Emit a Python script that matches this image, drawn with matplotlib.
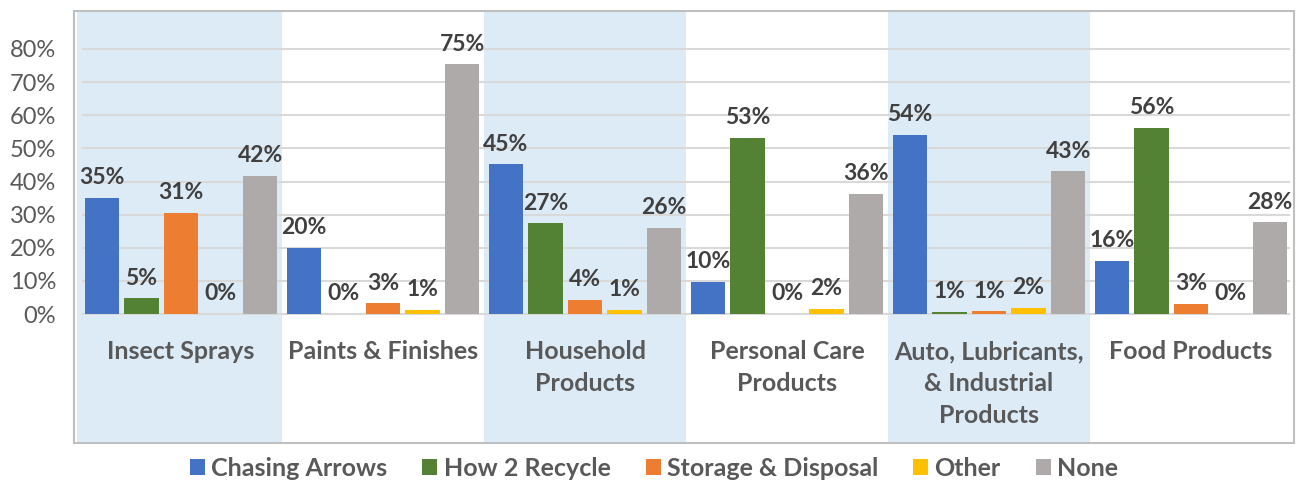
import matplotlib.pyplot as plt
import numpy as np

# ======== Data ========
categories = ["Insect Sprays", "Paints & Finishes", "Household\nProducts",
              "Personal Care\nProducts", "Auto, Lubricants,\n& Industrial\nProducts",
              "Food Products"]
series_names = ["Chasing Arrows", "How 2 Recycle", "Storage & Disposal", "Other", "None"]

chasing_arrows = [0.35, 0.199, 0.452, 0.097, 0.54, 0.16]
how_2_recycle = [0.047, 0.0, 0.274, 0.532, 0.006, 0.561]
storage_disposal = [0.306, 0.032, 0.043, 0.0, 0.008, 0.031]
other = [0.0, 0.012, 0.013, 0.016, 0.019, 0.0]
none = [0.417, 0.754, 0.26, 0.363, 0.431, 0.277]

yticks = [0.0, 0.1, 0.2, 0.3, 0.4, 0.5, 0.6, 0.7, 0.8]
ytick_labels = ["0%", "10%", "20%", "30%", "40%", "50%", "60%", "70%", "80%"]

# ======== Style ========
colors = ["#4472C4", "#548235", "#ED7D31", "#FFC000", "#AEAAAA"]
band_color = "#DDEBF7"
grid_color = "#D9D9D9"
text_dark = "#404040"
text_grey = "#595959"

plt.rcParams['font.family'] = ['Lato', 'DejaVu Sans']

W, H = 1296, 483
fig = plt.figure(figsize=(W / 100, H / 100), dpi=100)
ax = fig.add_axes([74 / W, 40 / H, 1220 / W, 432 / H])

all_series = [chasing_arrows, how_2_recycle, storage_disposal, other, none]
x = np.arange(len(categories))
step = 0.196
width = 0.17

ax.set_xlim(-0.53, 5.51)
ax.set_ylim(-0.3894, 0.9147)

# alternating bands
for i in range(0, len(categories), 2):
    left = i - 0.5 if i > 0 else -0.515
    ax.axvspan(left, i + 0.5, color=band_color, zorder=0, lw=0)

# gridlines
ax.hlines(yticks, -0.49, 5.49, color=grid_color, lw=1.5, zorder=1)

for k, (vals, name, c) in enumerate(zip(all_series, series_names, colors)):
    pos = x + (k - 2) * step
    ax.bar(pos, vals, width, color=c, label=name, zorder=2)
    for xp, v in zip(pos, vals):
        ax.annotate(f"{v:.0%}", (xp, v), xytext=(0, 7), textcoords="offset points",
                    ha="center", va="bottom", fontsize=16.5, fontweight="bold",
                    color=text_dark, zorder=3)

# category labels
for xi, cat in zip(x, categories):
    ax.text(xi, -0.0785, cat, ha="center", va="top", fontsize=18, fontweight="bold",
            color=text_grey, linespacing=1.48)

ax.set_xticks([])
ax.set_yticks(yticks)
ax.set_yticklabels(ytick_labels, fontsize=17, color=text_grey)
ax.tick_params(axis="y", length=0, pad=13)

for s in ax.spines.values():
    s.set_color("#BFBFBF")
    s.set_linewidth(1.5)

fig.legend(loc="center", bbox_to_anchor=(654 / W, 1 - 468 / H), ncol=5, frameon=False,
           handlelength=0.6, handleheight=0.6, handletextpad=0.25,
           columnspacing=1.4, labelcolor=text_grey, prop={"weight": "bold", "size": 18})

fig.savefig("out.png", dpi=100)
